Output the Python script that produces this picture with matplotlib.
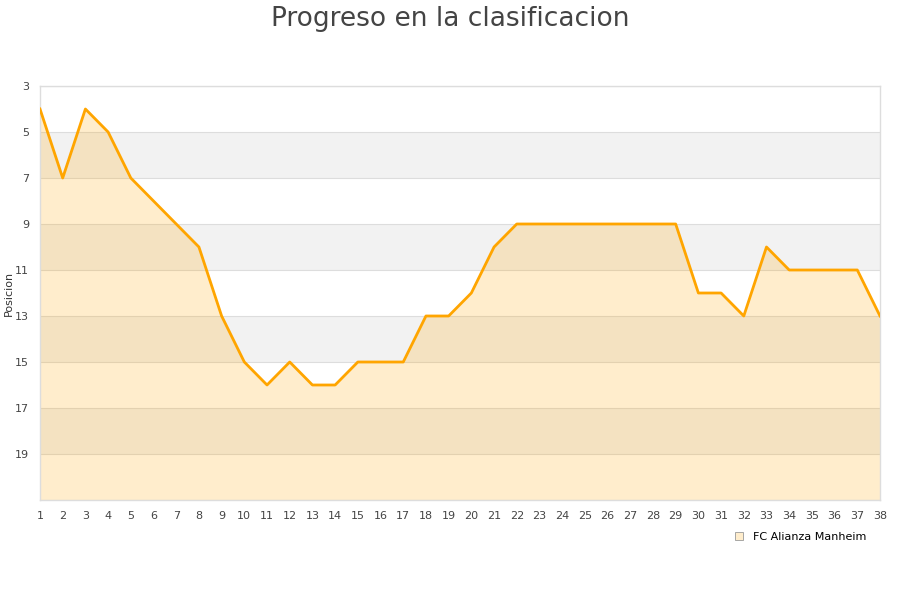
import matplotlib.pyplot as plt
from matplotlib.lines import Line2D

# jornadas y posiciones
jornadas = list(range(1, 39))
posiciones = [4, 7, 4, 5, 7, 8, 9, 10, 13, 15, 16, 15, 16, 16, 15, 15, 15, 13, 13, 12,
              10, 9, 9, 9, 9, 9, 9, 9, 9, 12, 12, 13, 10, 11, 11, 11, 11, 13]
y_ticks = list(range(3, 20, 2))
equipo = "FC Alianza Manheim"

fig = plt.figure(figsize=(9, 6), dpi=100)
ax = fig.add_axes([40/900, 1 - 500/600, 840/900, 414/600])

ax.set_xlim(1, 38)
ax.set_ylim(21, 3)

# bandas alternas
for y0 in range(5, 21, 4):
    ax.axhspan(y0, y0 + 2, color='#f2f2f2', zorder=0, lw=0)
for y in range(3, 22, 2):
    ax.axhline(y, color='#dddddd', lw=0.8, zorder=1)

ax.fill_between(jornadas, posiciones, 21, color='#FFA500', alpha=0.2, lw=0, zorder=2)
ax.plot(jornadas, posiciones, color='#FFA500', lw=2.0, zorder=3)

ax.set_xticks(jornadas)
ax.set_yticks(y_ticks)
ax.tick_params(axis='both', length=0, labelsize=8, colors='#444444', pad=8)
for s in ax.spines.values():
    s.set_color('#dddddd')
    s.set_linewidth(1)

ax.set_ylabel("Posicion", fontsize=8, color='#333333')
ax.yaxis.set_label_coords(-26/840, 0.5)
fig.suptitle("Progreso en la clasificacion", fontsize=19, color='#444444', y=0.99)

handle = Line2D([], [], marker='s', ls='none', markersize=6,
                markerfacecolor='#FFEDCC', markeredgecolor='#999999', markeredgewidth=0.6)
fig.legend([handle], [equipo], loc='center', bbox_to_anchor=(797/900, 1 - 537/600),
           frameon=False, fontsize=8, handletextpad=0.3)

fig.savefig("out.png", dpi=100)
